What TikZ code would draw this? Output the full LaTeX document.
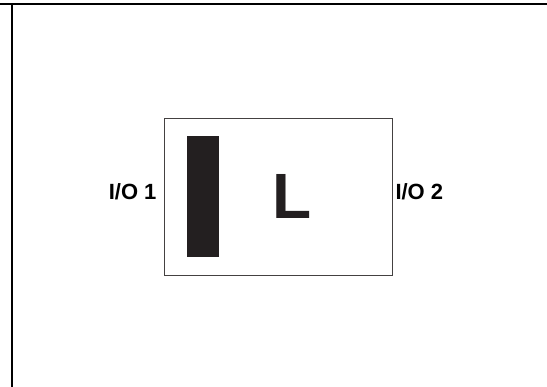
\documentclass[tikz,border=0pt]{standalone}
\usepackage{fontspec}
\setmainfont{Liberation Sans}
\definecolor{ink}{HTML}{231F20}
\begin{document}
\begin{tikzpicture}[x=1pt,y=-1pt,
  frameline/.style={line width=1.7pt,draw=black},
  boxline/.style={line width=1pt,draw=ink!85},
  lbl/.style={inner sep=0pt,anchor=base west,font=\bfseries\fontsize{22}{22}\selectfont}]
\useasboundingbox (0,0) rectangle (547,387);
\coordinate (tl) at (0,3.9);
\coordinate (tr) at (547,3.9);
\coordinate (lt) at (11.9,3.9);
\coordinate (lb) at (11.9,387);
\draw[frameline] (tl) -- (tr);
\draw[frameline] (lt) -- (lb);
\node[boxline,draw,inner sep=0pt,minimum width=228.4pt,minimum height=156.7pt] (box) at (278.5,197.35) {};
\node[fill=ink,inner sep=0pt,minimum width=32.3pt,minimum height=120.7pt] (bar) at (202.85,196.35) {};
\node[inner sep=0pt,anchor=base,text=ink,font=\bfseries\fontsize{64}{64}\selectfont] (L) at (292,219) {L};
\node[lbl] (io1) at (108.6,199.3) {I/O 1};
\node[lbl] (io2) at (395.3,199.3) {I/O 2};
\end{tikzpicture}
\end{document}
